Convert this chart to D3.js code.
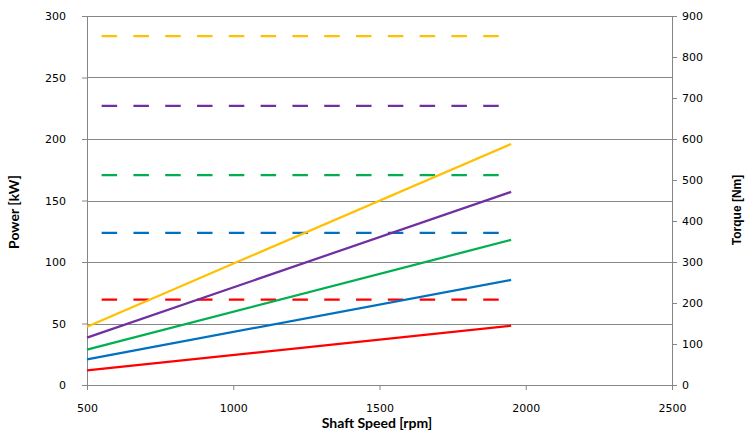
<!DOCTYPE html>
<html>
<head>
<meta charset="utf-8">
<script src="https://cdn.jsdelivr.net/npm/d3@7"></script>
<style>
  body { margin: 0; background: #fff; }
  svg { display: block; }
</style>
</head>
<body>
<svg id="chart" width="747" height="436"></svg>
<script>
// series: power (solid, kW) rising with speed, torque (dashed, Nm) flat
var seriesNames = ["red", "blue", "green", "purple", "yellow"];
var seriesColors = ["#FF0000", "#0070C0", "#00B050", "#7030A0", "#FFC000"];
var powerSpeeds = [500, 1950];
var powerStart = [11.9, 20.9, 28.7, 38.5, 47.4];
var powerEnd = [48.2, 85.4, 118, 157, 196];
var torqueSpeeds = [550, 1950];
var torqueValues = [208, 371, 512, 681, 851];

var xTicks = [500, 1000, 1500, 2000, 2500];
var yTicks = [0, 50, 100, 150, 200, 250, 300];
var y2Ticks = [0, 100, 200, 300, 400, 500, 600, 700, 800, 900];

var svg = d3.select("#chart");
var plotLeft = 87, plotRight = 672, plotTop = 16, plotBottom = 385;
var axisColor = "#868686";

var xScale = d3.scaleLinear().domain([500, 2500]).range([plotLeft, plotRight]);
var yScale = d3.scaleLinear().domain([0, 300]).range([plotBottom, plotTop]);
var y2Scale = d3.scaleLinear().domain([0, 900]).range([plotBottom, plotTop]);

// horizontal gridlines
svg.append("g")
    .selectAll("line")
    .data(yTicks.slice(1))
    .enter().append("line")
    .attr("x1", plotLeft).attr("x2", plotRight)
    .attr("y1", function(d) { return Math.round(yScale(d)) + 0.5; })
    .attr("y2", function(d) { return Math.round(yScale(d)) + 0.5; })
    .attr("stroke", axisColor).attr("stroke-width", 1);

function styleAxis(g)
{
    g.attr("font-family", "'DejaVu Sans', sans-serif").attr("font-size", 11);
    g.selectAll(".domain").attr("stroke", axisColor);
    g.selectAll(".tick line").attr("stroke", axisColor);
    g.selectAll(".tick text").attr("fill", "#000");
}

var fmt = d3.format("d");

svg.append("g")
    .attr("transform", "translate(0," + plotBottom + ")")
    .call(d3.axisBottom(xScale).tickValues(xTicks).tickFormat(fmt).tickSize(5).tickSizeOuter(0).tickPadding(14))
    .call(styleAxis);

svg.append("g")
    .attr("transform", "translate(" + plotLeft + ",0)")
    .call(d3.axisLeft(yScale).tickValues(yTicks).tickFormat(fmt).tickSize(5).tickSizeOuter(0).tickPadding(16))
    .call(styleAxis);

svg.append("g")
    .attr("transform", "translate(" + plotRight + ",0)")
    .call(d3.axisRight(y2Scale).tickValues(y2Ticks).tickFormat(fmt).tickSize(5).tickSizeOuter(0).tickPadding(5))
    .call(styleAxis);

var line = d3.line().x(function(d) { return xScale(d[0]); }).y(function(d) { return d[1]; });

// torque lines (dashed)
seriesNames.forEach(function(name, i)
{
    var pts = torqueSpeeds.map(function(s) { return [s, y2Scale(torqueValues[i])]; });
    svg.append("path")
        .attr("d", line(pts))
        .attr("fill", "none")
        .attr("stroke", seriesColors[i])
        .attr("stroke-width", 2.25)
        .attr("stroke-dasharray", "15.5,16.3");
});

// power lines (solid)
seriesNames.forEach(function(name, i)
{
    var pts = [[powerSpeeds[0], yScale(powerStart[i])], [powerSpeeds[1], yScale(powerEnd[i])]];
    svg.append("path")
        .attr("d", line(pts))
        .attr("fill", "none")
        .attr("stroke", seriesColors[i])
        .attr("stroke-width", 2.25);
});

// axis titles
svg.append("text")
    .attr("transform", "translate(19,212) rotate(-90)")
    .attr("text-anchor", "middle")
    .style("font-family", "Lato, sans-serif")
    .style("font-weight", "bold")
    .style("font-size", "14px")
    .text("Power [kW]");

svg.append("text")
    .attr("transform", "translate(741,210) rotate(-90)")
    .attr("text-anchor", "middle")
    .style("font-family", "'Liberation Sans', Arial, sans-serif")
    .style("font-weight", "bold")
    .style("font-size", "12px")
    .text("Torque [Nm]");

svg.append("text")
    .attr("x", 377).attr("y", 428)
    .attr("text-anchor", "middle")
    .style("font-family", "Lato, sans-serif")
    .style("font-weight", "bold")
    .style("font-size", "14px")
    .text("Shaft Speed [rpm]");
</script>
</body>
</html>
